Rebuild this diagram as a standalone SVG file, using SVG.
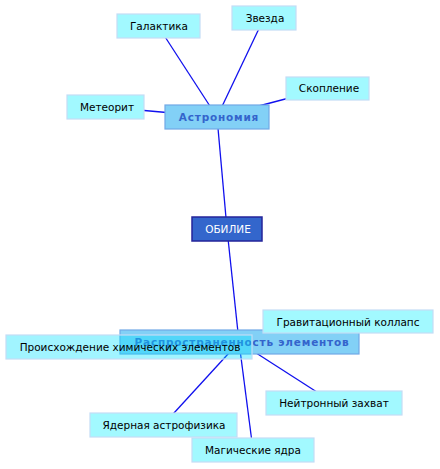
<svg xmlns="http://www.w3.org/2000/svg" width="440" height="469" viewBox="0 0 440 469">
<style>
text{font-family:"DejaVu Sans","Liberation Sans",sans-serif;font-size:10.5px;text-anchor:middle}
.leaf rect{fill:#a2f9ff;stroke:#c4dcf6;stroke-width:1.2}
.leaf text{fill:#000}
.mid rect{fill:#82d0f6;stroke:#70a8e6;stroke-width:1.2}
.mid text{fill:#3464cc;font-weight:bold;letter-spacing:0.8px}
.root rect{fill:#3366cc;stroke:#25259a;stroke-width:1.5}
.root text{fill:#fff}
.leaf rect.glass{fill:#00e0ff;fill-opacity:0.37;stroke:#c4dcf6}
#edges line{stroke:#1010ee;stroke-width:1.3}
</style>
<rect width="440" height="469" fill="#fff"/>
<g id="edges">
<line x1="158" y1="26" x2="217" y2="117"/>
<line x1="264" y1="18" x2="217" y2="117"/>
<line x1="327" y1="88" x2="217" y2="117"/>
<line x1="105" y1="107" x2="217" y2="117"/>
<line x1="217" y1="117" x2="227" y2="229"/>
<line x1="227" y1="229" x2="239" y2="342"/>
<line x1="239" y1="342" x2="348" y2="321"/>
<line x1="239" y1="342" x2="122" y2="347"/>
<line x1="239" y1="342" x2="334" y2="403"/>
<line x1="239" y1="342" x2="163" y2="425"/>
<line x1="239" y1="342" x2="253" y2="450"/>
</g>
<g id="n-galaktika" class="leaf"><rect x="117" y="14" width="83" height="24"/><text x="159" y="29.5">Галактика</text></g>
<g id="n-zvezda" class="leaf"><rect x="232" y="6" width="64" height="24"/><text x="265" y="21.5">Звезда</text></g>
<g id="n-skoplenie" class="leaf"><rect x="286" y="77" width="83" height="23"/><text x="329" y="92">Скопление</text></g>
<g id="n-meteorit" class="leaf"><rect x="67" y="95" width="77" height="24"/><text x="107" y="110.5">Метеорит</text></g>
<g id="n-astronomia" class="mid"><rect x="165" y="105" width="104" height="24"/><text x="219" y="120.5">Астрономия</text></g>
<g id="n-obilie" class="root"><rect x="192" y="217" width="70" height="24"/><text x="228" y="232.5">ОБИЛИЕ</text></g>
<g id="n-raspr" class="mid"><rect x="120" y="330" width="239" height="24"/><text x="242" y="345.5">Распространенность элементов</text></g>
<g id="n-grav" class="leaf"><rect x="263" y="310" width="170" height="23"/><text x="348" y="325.5">Гравитационный коллапс</text></g>
<g id="n-origin" class="leaf"><rect class="glass" x="6" y="335" width="246" height="24"/><text x="130" y="350.5">Происхождение химических элементов</text></g>
<g id="n-neutron" class="leaf"><rect x="266" y="391" width="136" height="24"/><text x="334" y="406.5">Нейтронный захват</text></g>
<g id="n-nuclear" class="leaf"><rect x="90" y="413" width="147" height="24"/><text x="164" y="428.5">Ядерная астрофизика</text></g>
<g id="n-magic" class="leaf"><rect x="192" y="438" width="122" height="24"/><text x="253" y="453.5">Магические ядра</text></g>
</svg>
